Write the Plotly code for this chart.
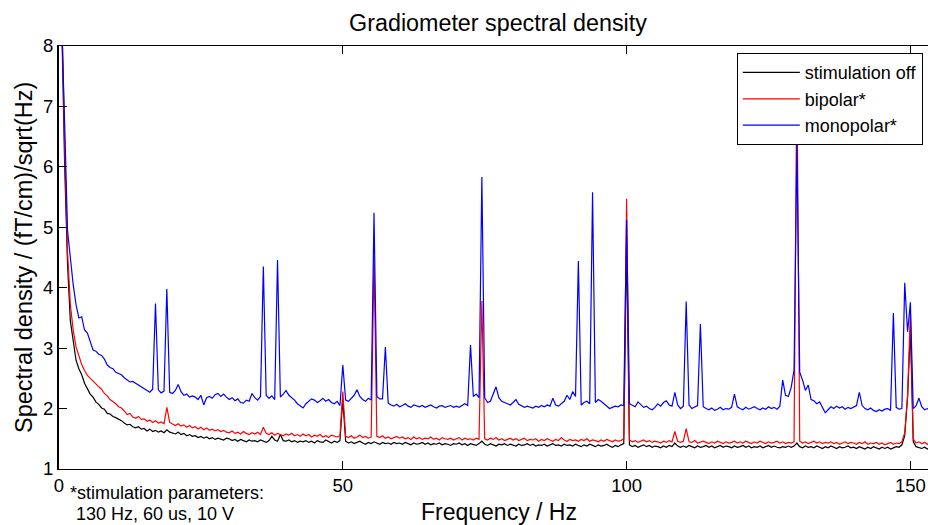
import numpy as np
import plotly.graph_objects as go

# frequency bins: 0, 0.5, 1.0 ... 153.5 Hz
freq_step = 0.5

stim_off = [
    15.0, 8.3, 6.0, 4.4, 3.45, 3.1, 2.8, 2.66, 2.56, 2.42, 2.34, 2.24, 2.19, 2.11, 2.07, 2.01, 1.99, 1.92, 1.91, 1.87,
    1.85, 1.83, 1.80, 1.76, 1.73, 1.74, 1.70, 1.68, 1.70, 1.66, 1.67, 1.63, 1.66, 1.62, 1.64, 1.61, 1.63, 1.60, 1.65, 1.61,
    1.60, 1.58, 1.61, 1.57, 1.59, 1.55, 1.57, 1.54, 1.55, 1.52, 1.54, 1.51, 1.53, 1.50, 1.52, 1.49, 1.51, 1.50, 1.48, 1.51,
    1.50, 1.47, 1.49, 1.46, 1.49, 1.47, 1.45, 1.48, 1.46, 1.47, 1.45, 1.48, 1.46, 1.44, 1.47, 1.54, 1.48, 1.46, 1.57, 1.47,
    1.46, 1.48, 1.45, 1.47, 1.44, 1.46, 1.45, 1.47, 1.44, 1.46, 1.43, 1.47, 1.45, 1.44, 1.48, 1.45, 1.43, 1.46, 1.44, 1.47,
    2.15, 1.46, 1.43, 1.45, 1.42, 1.44, 1.46, 1.43, 1.41, 1.44, 1.42, 1.45, 1.43, 1.41, 1.44, 1.42, 1.43, 1.41, 1.44, 1.42,
    1.43, 1.41, 1.44, 1.42, 1.40, 1.43, 1.41, 1.42, 1.44, 1.41, 1.43, 1.40, 1.42, 1.41, 1.43, 1.40, 1.42, 1.41, 1.39, 1.42,
    1.41, 1.43, 1.40, 1.42, 1.39, 1.42, 1.41, 1.39, 1.42, 1.46, 1.41, 1.39, 1.42, 1.40, 1.38, 1.41, 1.40, 1.42, 1.39, 1.41,
    1.40, 1.38, 1.41, 1.39, 1.40, 1.42, 1.39, 1.41, 1.38, 1.40, 1.39, 1.41, 1.38, 1.40, 1.42, 1.39, 1.40, 1.38, 1.41, 1.39,
    1.40, 1.38, 1.41, 1.39, 1.37, 1.40, 1.38, 1.41, 1.39, 1.37, 1.40, 1.38, 1.39, 1.41, 1.38, 1.36, 1.39, 1.37, 1.40, 1.42,
    4.80, 1.40, 1.37, 1.39, 1.36, 1.38, 1.40, 1.37, 1.39, 1.36, 1.38, 1.37, 1.35, 1.38, 1.36, 1.39, 1.37, 1.43, 1.38, 1.36,
    1.38, 1.36, 1.39, 1.37, 1.35, 1.38, 1.36, 1.37, 1.39, 1.36, 1.38, 1.35, 1.37, 1.39, 1.36, 1.38, 1.37, 1.35, 1.38, 1.36,
    1.37, 1.39, 1.36, 1.38, 1.35, 1.37, 1.36, 1.38, 1.35, 1.37, 1.39, 1.36, 1.38, 1.36, 1.35, 1.37, 1.36, 1.38, 1.36, 1.38,
    1.43, 1.37, 1.35, 1.38, 1.36, 1.37, 1.35, 1.38, 1.36, 1.34, 1.37, 1.35, 1.38, 1.36, 1.34, 1.37, 1.35, 1.36, 1.38, 1.35,
    1.36, 1.34, 1.37, 1.35, 1.33, 1.36, 1.34, 1.37, 1.35, 1.33, 1.36, 1.34, 1.36, 1.33, 1.35, 1.37, 1.36, 1.40, 1.55, 2.20,
    3.30, 1.45, 1.37, 1.35, 1.34, 1.36, 1.33, 1.35,
]

bipolar = [
    15.0, 8.6, 6.3, 4.6, 3.72, 3.3, 3.02, 2.86, 2.73, 2.63, 2.55, 2.50, 2.46, 2.41, 2.36, 2.32, 2.25, 2.21, 2.15, 2.12,
    2.08, 2.03, 2.01, 1.96, 1.90, 1.92, 1.86, 1.84, 1.87, 1.82, 1.83, 1.79, 1.81, 1.77, 1.80, 1.76, 1.78, 1.75, 2.02, 1.77,
    1.74, 1.72, 1.75, 1.71, 1.73, 1.69, 1.72, 1.68, 1.70, 1.66, 1.69, 1.65, 1.68, 1.64, 1.66, 1.63, 1.65, 1.62, 1.64, 1.61,
    1.60, 1.63, 1.59, 1.61, 1.58, 1.62, 1.59, 1.57, 1.60, 1.58, 1.61, 1.57, 1.69, 1.59, 1.57, 1.60, 1.56, 1.59, 1.57, 1.55,
    1.58, 1.56, 1.59, 1.55, 1.57, 1.54, 1.58, 1.55, 1.57, 1.53, 1.56, 1.54, 1.57, 1.53, 1.55, 1.52, 1.56, 1.54, 1.53, 1.55,
    2.28, 1.54, 1.52, 1.55, 1.51, 1.53, 1.56, 1.52, 1.54, 1.51, 1.53, 4.51, 1.54, 1.52, 1.55, 1.51, 1.53, 1.50, 1.52, 1.54,
    1.51, 1.53, 1.50, 1.52, 1.49, 1.53, 1.50, 1.52, 1.49, 1.51, 1.50, 1.53, 1.49, 1.51, 1.48, 1.52, 1.50, 1.49, 1.51, 1.48,
    1.50, 1.52, 1.48, 1.51, 1.49, 1.50, 1.48, 1.51, 1.49, 3.78, 1.50, 1.48, 1.51, 1.49, 1.52, 1.48, 1.50, 1.47, 1.49, 1.51,
    1.48, 1.50, 1.47, 1.49, 1.51, 1.47, 1.49, 1.48, 1.50, 1.46, 1.49, 1.47, 1.50, 1.48, 1.46, 1.49, 1.47, 1.52, 1.48, 1.46,
    1.49, 1.47, 1.48, 1.46, 1.49, 1.47, 1.50, 1.46, 1.48, 1.47, 1.45, 1.48, 1.46, 1.49, 1.47, 1.45, 1.48, 1.46, 1.47, 1.50,
    5.47, 1.48, 1.45, 1.47, 1.44, 1.46, 1.48, 1.45, 1.47, 1.44, 1.46, 1.45, 1.43, 1.46, 1.44, 1.47, 1.45, 1.62, 1.46, 1.44,
    1.46, 1.67, 1.45, 1.44, 1.47, 1.43, 1.45, 1.46, 1.44, 1.42, 1.45, 1.43, 1.46, 1.44, 1.42, 1.45, 1.43, 1.44, 1.46, 1.43,
    1.45, 1.43, 1.46, 1.44, 1.42, 1.45, 1.43, 1.46, 1.44, 1.42, 1.45, 1.43, 1.44, 1.46, 1.43, 1.45, 1.42, 1.44, 1.43, 1.45,
    7.60, 1.46, 1.43, 1.45, 1.42, 1.44, 1.46, 1.43, 1.45, 1.42, 1.44, 1.43, 1.45, 1.42, 1.44, 1.41, 1.43, 1.45, 1.42, 1.44,
    1.43, 1.41, 1.44, 1.42, 1.45, 1.41, 1.43, 1.42, 1.44, 1.41, 1.43, 1.40, 1.42, 1.44, 1.41, 1.43, 1.42, 1.45, 1.60, 2.20,
    3.60, 1.50, 1.43, 1.45, 1.42, 1.44, 1.41, 1.43,
]

monopolar = [
    15.0, 8.3, 6.7, 4.95, 4.5, 4.05, 3.72, 3.5, 3.52, 3.3, 3.25, 3.1, 2.97, 2.95, 2.9, 2.88, 2.82, 2.72, 2.68, 2.66,
    2.60, 2.58, 2.56, 2.51, 2.48, 2.44, 2.45, 2.42, 2.40, 2.36, 2.33, 2.30, 2.27, 2.32, 3.74, 2.31, 2.26, 2.29, 3.98, 2.27,
    2.25, 2.30, 2.40, 2.28, 2.22, 2.24, 2.19, 2.21, 2.19, 2.15, 2.22, 2.06, 2.18, 2.20, 2.17, 2.23, 2.25, 2.20, 2.24, 2.19,
    2.15, 2.18, 2.13, 2.16, 2.10, 2.09, 2.14, 2.12, 2.25, 2.18, 2.14, 2.20, 4.35, 2.22, 2.17, 2.21, 2.15, 4.46, 2.19, 2.24,
    2.30, 2.22, 2.18, 2.14, 2.08, 2.05, 2.01, 2.08, 2.12, 2.16, 2.14, 2.10, 2.13, 2.17, 2.12, 2.15, 2.10, 2.08, 2.12, 2.05,
    2.72, 2.14, 2.12, 2.18, 2.22, 2.31, 2.20, 2.15, 2.12, 2.17, 2.14, 5.24, 2.20, 2.16, 2.16, 3.02, 2.09, 2.06, 2.04, 2.07,
    2.03, 2.05, 2.08, 2.04, 2.02, 2.06, 2.04, 2.03, 2.05, 2.02, 2.04, 2.06, 2.03, 2.01, 2.04, 2.05, 2.02, 2.03, 2.05, 2.02,
    2.04, 2.02, 2.05, 2.08, 2.05, 3.05, 2.20, 2.24, 2.18, 5.83, 2.18, 2.10, 2.12, 2.25, 2.36, 2.18, 2.12, 2.10, 2.08, 2.06,
    2.10, 2.15, 2.07, 2.05, 2.02, 2.04, 2.03, 2.01, 2.04, 2.02, 2.05, 2.03, 2.06, 2.04, 2.17, 2.06, 2.04, 2.08, 2.12, 2.22,
    2.15, 2.28, 2.20, 4.44, 2.06, 2.10, 2.12, 2.08, 5.58, 2.10, 2.15, 2.12, 2.08, 2.05, 2.00, 2.02, 2.04, 2.03, 2.06, 2.05,
    5.12, 2.08, 2.05, 2.03, 2.11, 2.06, 2.02, 2.04, 2.00, 1.98, 2.02, 2.08, 2.04, 2.10, 2.13, 2.06, 2.04, 2.27, 2.06, 2.00,
    2.04, 3.77, 2.06, 2.00, 2.02, 2.05, 3.40, 2.03, 2.00, 1.98, 2.01, 1.97, 1.99, 2.02, 1.98, 2.00, 1.99, 2.02, 2.24, 2.03,
    2.00, 1.98, 2.02, 1.99, 2.01, 2.03, 2.00, 1.98, 2.01, 1.99, 2.03, 2.00, 2.02, 1.99, 2.04, 2.47, 2.22, 2.20, 2.35, 2.64,
    6.36, 2.60, 2.47, 2.30, 2.39, 2.15, 2.13, 2.08, 2.11, 2.03, 1.93, 1.98, 2.03, 2.00, 2.04, 2.01, 2.03, 1.99, 2.02, 2.00,
    2.02, 2.05, 2.27, 2.05, 2.00, 1.98, 2.01, 1.97, 1.95, 1.98, 1.96, 1.99, 2.00, 1.97, 3.58, 2.02, 1.99, 2.00, 4.08, 3.27,
    3.76, 2.00, 2.05, 2.17, 2.03, 1.98, 2.00, 1.97,
]

series_names = ["stimulation off", "bipolar*", "monopolar*"]
series_colors = ["#000000", "#ff0000", "#0000ff"]
x_ticks = [0, 50, 100, 150]
y_ticks = [1, 2, 3, 4, 5, 6, 7, 8]

FONT = "Liberation Sans, Arial, Helvetica, sans-serif"

fig = go.Figure()
for name, vals, col in zip(series_names, [stim_off, bipolar, monopolar], series_colors):
    f = np.arange(len(vals)) * freq_step
    fig.add_trace(go.Scatter(x=f, y=vals, mode="lines", name=name,
                             line=dict(color=col, width=1.2)))

fig.update_layout(
    width=928, height=525,
    margin=dict(l=59, r=0, t=46, b=56),
    paper_bgcolor="white", plot_bgcolor="white",
    font=dict(family=FONT, color="black", size=18),
    showlegend=True,
    legend=dict(x=0.78, y=0.983, xanchor="left", yanchor="top",
                bgcolor="white", bordercolor="black", borderwidth=1,
                font=dict(size=18, family=FONT), itemwidth=57,
                tracegroupgap=0),
    title=dict(text="Gradiometer spectral density", x=498 / 928, xref="container",
               xanchor="center", y=1 - 23 / 525, yref="container", yanchor="middle",
               font=dict(size=23.3, family=FONT)),
)
fig.update_xaxes(range=[0, 153.1], tickvals=x_ticks, ticks="inside", ticklen=8,
                 tickcolor="black", showline=True, linecolor="black", linewidth=1,
                 mirror="ticks", showgrid=False, zeroline=False,
                 tickfont=dict(size=18.5))
fig.update_yaxes(range=[1, 8], tickvals=y_ticks, ticks="inside", ticklen=8,
                 tickcolor="black", showline=True, linecolor="black", linewidth=2,
                 mirror=False, showgrid=False, zeroline=False,
                 tickfont=dict(size=18.5))

fig.add_annotation(text="Frequency / Hz", xref="paper", yref="paper",
                   x=(499 - 59) / 869, y=(469 - 512) / 423, xanchor="center", yanchor="middle",
                   showarrow=False, font=dict(size=23, family=FONT))
fig.add_annotation(text="Spectral density / (fT/cm)/sqrt(Hz)", xref="paper", yref="paper",
                   x=(24 - 59) / 869, y=(469 - 258) / 423, xanchor="center", yanchor="middle",
                   textangle=-90, showarrow=False, font=dict(size=23.5, family=FONT))
fig.add_annotation(text="*stimulation parameters:", xref="paper", yref="paper",
                   x=(68 - 59) / 869, y=(469 - 493) / 423, xanchor="left", yanchor="middle",
                   showarrow=False, font=dict(size=18, family=FONT))
fig.add_annotation(text="130 Hz, 60 us, 10 V", xref="paper", yref="paper",
                   x=(74 - 59) / 869, y=(469 - 514) / 423, xanchor="left", yanchor="middle",
                   showarrow=False, font=dict(size=18, family=FONT))

fig.write_html("out.html")
